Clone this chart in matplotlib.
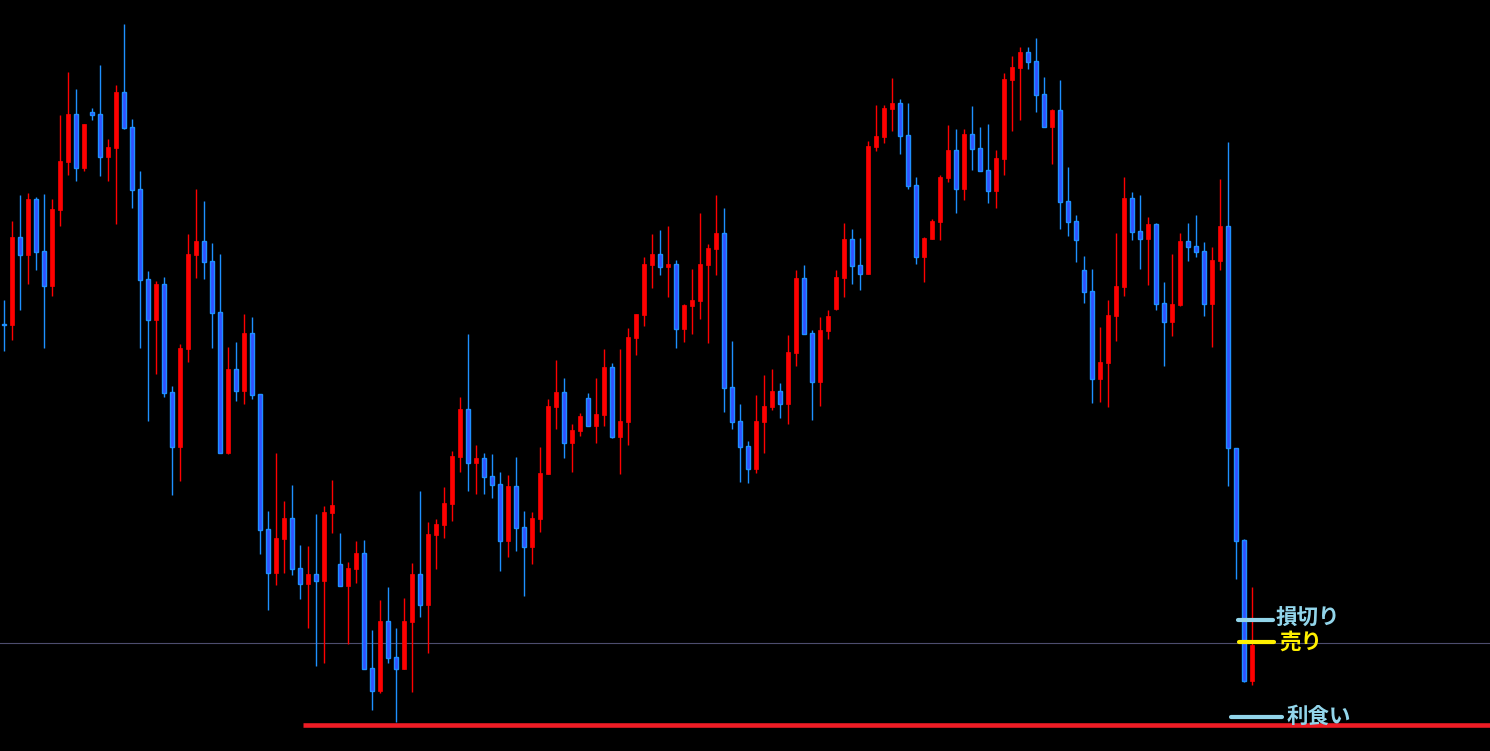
import numpy as np
import matplotlib
matplotlib.use("Agg")
import matplotlib.pyplot as plt

plt.rcParams['font.family'] = ['Noto Sans CJK JP', 'DejaVu Sans']

# OHLC (arbitrary price units)
opens = [676, 675, 763, 745, 801, 749, 714, 790, 838, 886, 832, 888, 886, 843, 852, 908,
         873, 811, 721, 680, 716, 608, 553, 651, 745, 759, 739, 688, 547, 631, 609, 667,
         606, 471, 427, 461, 482, 432, 416, 426, 419, 487, 436, 414, 431, 447, 332, 309,
         379, 343, 331, 378, 426, 395, 465, 475, 496, 543, 591, 537, 542, 524, 516, 459,
         514, 473, 453, 481, 526, 593, 608, 557, 569, 602, 574, 585, 633, 563, 578, 662,
         685, 735, 746, 733, 736, 671, 694, 699, 735, 751, 767, 613, 579, 554, 531, 578,
         593, 609, 596, 647, 722, 667, 618, 669, 691, 722, 761, 735, 726, 853, 863, 891,
         897, 865, 815, 743, 761, 778, 822, 850, 811, 866, 852, 830, 809, 841, 920, 932,
         948, 939, 906, 873, 890, 799, 779, 730, 709, 621, 637, 684, 713, 802, 769, 761,
         776, 697, 678, 695, 759, 754, 749, 696, 739, 774, 552, 460, 319]
highs = [700, 779, 805, 807, 803, 806, 801, 885, 928, 911, 876, 892, 935, 861, 915, 976,
         881, 829, 729, 719, 723, 614, 656, 766, 811, 799, 757, 746, 653, 658, 686, 683,
         606, 489, 547, 499, 515, 455, 454, 486, 494, 520, 467, 438, 459, 460, 370, 400,
         413, 372, 402, 437, 509, 478, 481, 513, 549, 603, 666, 555, 547, 546, 528, 525,
         543, 489, 488, 553, 601, 640, 622, 576, 587, 607, 622, 651, 637, 651, 672, 686,
         743, 766, 770, 774, 740, 696, 731, 787, 756, 805, 792, 659, 596, 559, 605, 625,
         631, 617, 665, 730, 735, 670, 683, 690, 730, 777, 771, 762, 859, 895, 895, 922,
         901, 897, 823, 763, 781, 825, 875, 871, 871, 894, 873, 876, 850, 927, 944, 953,
         953, 962, 923, 891, 920, 833, 785, 744, 731, 673, 700, 767, 823, 808, 805, 783,
         777, 718, 746, 767, 777, 785, 758, 753, 821, 858, 552, 461, 413]
lows = [649, 660, 690, 716, 730, 652, 704, 774, 825, 819, 829, 880, 824, 819, 776, 871,
        792, 652, 579, 626, 603, 505, 519, 638, 722, 721, 652, 547, 546, 599, 596, 601,
        446, 390, 415, 427, 425, 401, 372, 334, 337, 467, 414, 356, 417, 331, 290, 307,
        337, 278, 331, 308, 383, 347, 431, 462, 479, 528, 509, 506, 506, 502, 429, 443,
        449, 404, 436, 468, 526, 571, 542, 528, 564, 574, 557, 574, 562, 526, 555, 645,
        674, 712, 725, 703, 652, 658, 666, 681, 657, 725, 588, 571, 518, 517, 527, 547,
        590, 582, 576, 634, 666, 580, 594, 661, 690, 703, 716, 710, 726, 849, 857, 869,
        846, 811, 736, 718, 761, 760, 818, 787, 800, 830, 829, 797, 792, 825, 869, 880,
        931, 888, 873, 836, 771, 764, 738, 697, 597, 598, 593, 659, 704, 760, 731, 715,
        690, 634, 664, 694, 739, 743, 684, 653, 730, 514, 421, 318, 315]
closes = [675, 763, 745, 801, 748, 714, 791, 839, 886, 832, 876, 885, 843, 853, 908, 872,
          810, 720, 680, 716, 607, 553, 652, 746, 759, 738, 687, 547, 631, 609, 667, 605,
          470, 427, 462, 482, 431, 416, 426, 419, 488, 495, 414, 432, 447, 331, 309, 379,
          342, 331, 379, 426, 395, 466, 476, 497, 544, 591, 537, 542, 523, 515, 459, 514,
          472, 453, 482, 527, 594, 608, 557, 570, 584, 574, 586, 633, 563, 579, 663, 686,
          736, 746, 733, 736, 671, 695, 700, 736, 752, 767, 612, 578, 553, 531, 579, 594,
          609, 596, 648, 722, 666, 618, 670, 684, 723, 761, 734, 726, 854, 864, 892, 897,
          864, 814, 743, 762, 779, 823, 850, 811, 866, 851, 829, 809, 842, 921, 933, 948,
          938, 905, 873, 890, 798, 778, 760, 708, 621, 638, 685, 714, 802, 768, 761, 776,
          696, 678, 696, 759, 753, 748, 696, 740, 774, 552, 459, 319, 355]

# trade levels
stop_loss = 380
sell_price = 358
take_profit = 283.5
support = 275.5
bid_line = 357

o = np.array(opens, dtype=float)
h = np.array(highs, dtype=float)
l = np.array(lows, dtype=float)
c = np.array(closes, dtype=float)
x = np.arange(len(o))
up = c > o

fig = plt.figure(figsize=(14.9, 7.51), dpi=100, facecolor='black')
ax = fig.add_axes([0, 0, 1, 1])
ax.set_facecolor('black')
ax.set_xlim(-0.5, -0.5 + 1490 / 8)
ax.set_ylim(249, 1000)
ax.axis('off')

# current price line
ax.axhline(bid_line, color='#4d4d6e', lw=0.8, zorder=1)

# wicks
ax.vlines(x[up], l[up], h[up], color='#ff0000', lw=1.0, zorder=2)
ax.vlines(x[~up], l[~up], h[~up], color='#1e90ff', lw=1.0, zorder=2)

# bodies
body = np.maximum(np.abs(c - o), 1.0)
bottom = np.minimum(o, c)
ax.bar(x[up], body[up], bottom=bottom[up], width=0.62, color='#ff0000',
       edgecolor='#ff0000', linewidth=0.5, zorder=3)
ax.bar(x[~up], body[~up], bottom=bottom[~up], width=0.62, color='#3250ff',
       edgecolor='#1e90ff', linewidth=1.0, zorder=3)

# support line
ax.hlines(support, 37.4, 190, color='#ee1c25', lw=3.3, zorder=4)

# trade markers
ax.hlines(stop_loss, 154.2, 158.6, color='#92d5ea', lw=3, capstyle='round', zorder=5)
ax.hlines(sell_price, 154.4, 158.8, color='#fff000', lw=3, capstyle='round', zorder=5)
ax.hlines(take_profit, 153.4, 159.7, color='#92d5ea', lw=3, capstyle='round', zorder=5)

ax.text(158.9, stop_loss + 3, '損切り', color='#92d5ea', fontsize=15.5,
        fontweight='bold', ha='left', va='center', zorder=6)
ax.text(159.4, sell_price - 0.5, '売り', color='#fff000', fontsize=15.5,
        fontweight='bold', ha='left', va='center', zorder=6)
ax.text(160.3, take_profit, '利食い', color='#92d5ea', fontsize=15.5,
        fontweight='bold', ha='left', va='center', zorder=6)

fig.savefig('out.png', dpi=100, facecolor='black')
